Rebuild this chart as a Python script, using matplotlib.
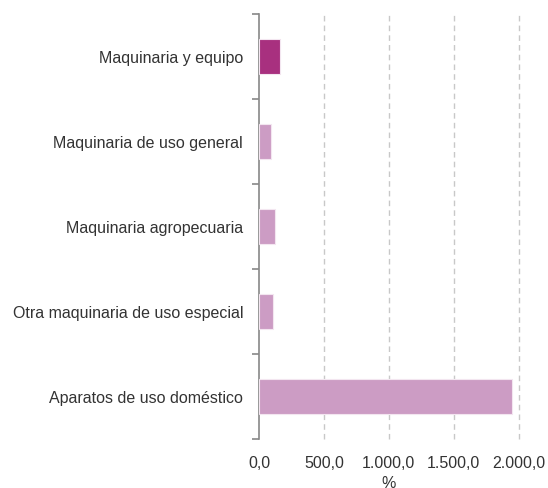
import matplotlib
matplotlib.use("Agg")
import matplotlib.pyplot as plt
from matplotlib.ticker import FuncFormatter, FixedLocator

# categorias y valores (%)
categorias = [
    "Maquinaria y equipo",
    "Maquinaria de uso general",
    "Maquinaria agropecuaria",
    "Otra maquinaria de uso especial",
    "Aparatos de uso doméstico",
]
valores = [160.0, 96.0, 124.0, 108.0, 1948.0]
x_ticks = [0, 500, 1000, 1500, 2000]

color_total = "#A8307F"
color_resto = "#CC9CC4"
colores = [color_total] + [color_resto] * (len(categorias) - 1)

plt.rcParams["font.family"] = ["Liberation Sans", "DejaVu Sans"]
texto = "#333333"


def fmt_es(v, pos=None):
    s = f"{v:,.1f}"
    return s.replace(",", "X").replace(".", ",").replace("X", ".")


fig = plt.figure(figsize=(5.48, 4.88), dpi=100)
ax = fig.add_axes([0.4726, 0.1004, 0.474, 0.8709])

pos = list(range(len(categorias)))
ax.barh(pos, valores, height=0.41, color=colores, edgecolor="#f3e6f0",
        linewidth=0.8, zorder=3)

ax.set_xlim(0, 2000)
ax.set_ylim(len(categorias) - 0.5, -0.5)

ax.set_yticks(pos)
ax.set_yticklabels(categorias, fontsize=11.5, color=texto)
ax.yaxis.set_minor_locator(FixedLocator([p - 0.5 for p in range(len(categorias) + 1)]))
ax.tick_params(axis="y", which="major", length=0, pad=11.5)
ax.tick_params(axis="y", which="minor", length=5, width=1.2, color="#888888")

ax.set_xticks(x_ticks)
ax.xaxis.set_major_formatter(FuncFormatter(fmt_es))
ax.tick_params(axis="x", length=0, pad=12, labelsize=11.5, labelcolor=texto)
ax.set_xlabel("%", fontsize=11.5, color=texto, labelpad=4)

for xv in x_ticks[1:]:
    ax.axvline(xv, color="#c8c8c8", linestyle=(0, (4, 3)), linewidth=1,
               zorder=1, clip_on=False)

for lado in ["top", "right", "bottom"]:
    ax.spines[lado].set_visible(False)
ax.spines["left"].set_color("#888888")
ax.spines["left"].set_linewidth(1.2)

fig.savefig("out.png", dpi=100)
